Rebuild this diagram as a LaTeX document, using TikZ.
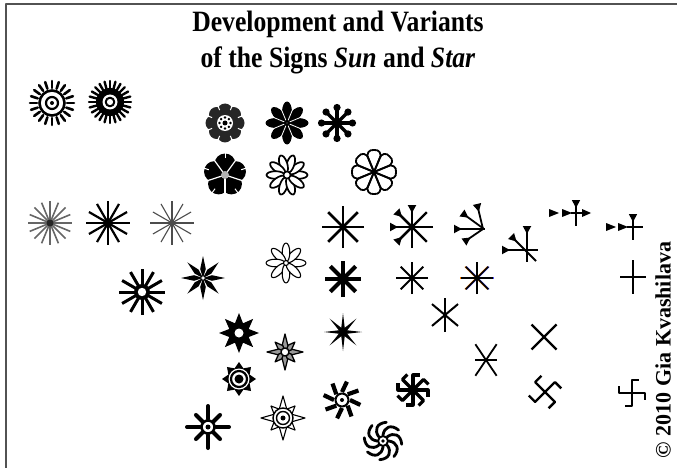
\documentclass[tikz,border=0pt]{standalone}
\usepackage{fontspec}
\setmainfont{Liberation Serif}
\newfontfamily\headfont[FakeStretch=0.87]{Liberation Serif}
\usetikzlibrary{arrows.meta}
\tikzset{
	plate/.style={x=1pt, y=-1pt, line join=round},
	ray/.style={line width=#1, line cap=round},
	ray/.default=2pt,
	bar/.style={line width=#1},
	bar/.default=2pt,
	petal/.style={draw, fill=white, line width=#1},
	petal/.default=1.6pt,
	wedge/.style={arrows={Triangle[reversed, length=#1, width=#1]-}},
	wedge/.default=8pt,
	frameline/.style={draw=black!68, line width=2pt},
	heading/.style={font=\headfont\bfseries\fontsize{29.5}{35}\selectfont, anchor=base, inner sep=0pt},
	signature/.style={font=\bfseries\fontsize{22}{26}\selectfont, rotate=90, inner sep=0pt},
}

\begin{document}
\begin{tikzpicture}[plate]
\useasboundingbox (0,0) rectangle (677,468);

% ---------- frame and headings ----------
\draw[frameline] (6,468) -- (6,4.5) -- (677,4.5);
\node[heading] (title1) at (338,32) {Development and Variants};
\node[heading] (title2) at (338,68) {of the Signs \textit{Sun} and \textit{Star}};
\node[signature] (copyright) at (663,350) {\textcopyright{} 2010 Gia Kvashilava};

% ---------- rayed suns ----------
\begin{scope}[shift={(52,103)}]
	\foreach \a in {0,18,...,342} \draw[ray=2.6pt] (\a:15) -- (\a:22);
	\draw[line width=2.6pt, fill=white] (0,0) circle (12.5);
	\draw[line width=2.2pt] (0,0) circle (6);
	\fill (0,0) circle (2);
\end{scope}
\begin{scope}[shift={(110,102)}]
	\foreach \a in {0,15,...,345} \draw[ray=2.4pt] (\a:12) -- (\a:21);
	\fill (0,0) circle (14);
	\fill[white] (0,0) circle (7.5);
	\draw[line width=2pt] (0,0) circle (4.3);
\end{scope}

% ---------- flowers ----------
\begin{scope}[shift={(225,123)}]
	\foreach \a in {0,45,...,315} \fill[black!85] (\a:12) circle (7.5);
	\fill[black!85] (0,0) circle (13);
	\foreach \a in {22.5,67.5,...,337.5} \draw[white, line width=1pt] (\a:14) -- (\a:21);
	\fill[white] (0,0) circle (8);
	\foreach \a in {0,45,...,315} \fill (\a:5.5) circle (1.3);
	\fill (0,0) circle (2.5);
\end{scope}
\begin{scope}[shift={(287,123)}]
	\foreach \a in {0,45,...,315} \fill[rotate=\a] (11,0) ellipse (10.5 and 5);
	\foreach \a in {22.5,67.5,...,337.5} \draw[white, line width=0.8pt] (\a:3) -- (\a:21);
\end{scope}
\begin{scope}[shift={(337,123)}]
	\foreach \a in {0,45,...,315} {
		\draw[bar=3.5pt] (0,0) -- (\a:14);
		\fill (\a:15.5) circle (3.6);
	}
	\fill (0,0) circle (4.5);
\end{scope}
\begin{scope}[shift={(225,175)}]
	\foreach \a in {-90,-18,54,126,198} \fill (\a:11) circle (10.5);
	\foreach \a in {-54,18,90,162,234} \draw[white, line width=1.2pt] (0,0) -- (\a:23);
	\foreach \a in {-90,-18,54,126,198} \draw[white, line width=1pt] (\a:17) -- (\a:22);
	\fill[black!30] (0,0) circle (4);
\end{scope}
\begin{scope}[shift={(287,175)}]
	\foreach \a in {0,36,...,324} \draw[petal=1.7pt, rotate=\a] (11.5,0) ellipse (9 and 3.8);
	\draw[petal=1.5pt] (0,0) circle (3.5);
\end{scope}
\begin{scope}[shift={(374,172)}]
	\foreach \a in {0,45,...,315}
		\draw[line width=1.8pt, rotate=\a] (0,0) -- (12.9,-5.4) .. controls (18,-8.5) and (23,-5) .. (22,0)
			.. controls (23,5) and (18,8.5) .. (12.9,5.4) -- cycle;
\end{scope}

% ---------- ray stars ----------
\begin{scope}[shift={(50,223)}]
	\foreach \a in {0,22.5,...,337.5} \draw[bar=1.6pt, black!60] (0,0) -- (\a:22);
	\fill[black!85] (0,0) circle (3.5);
\end{scope}
\begin{scope}[shift={(108,223)}]
	\foreach \a in {0,30,...,330} \draw[bar=2.2pt] (0,0) -- (\a:22);
	\fill (0,0) circle (4.5);
\end{scope}
\begin{scope}[shift={(172,223)}]
	\foreach \a in {0,30,...,330} \draw[bar=1.1pt, black!70] (0,0) -- (\a:22);
	\fill[black!70] (0,0) circle (2.5);
\end{scope}
\begin{scope}[shift={(142,292)}]
	\foreach \a in {0,30,...,330} \draw[bar=3pt] (0,0) -- (\a:23);
	\fill (0,0) circle (8);
	\fill[white] (0,0) circle (4.2);
\end{scope}
\begin{scope}[shift={(203,278)}]
	\foreach \a in {0,45,...,315} \fill[rotate=\a] (0,0) -- (9,2.8) -- (22,0) -- (9,-2.8) -- cycle;
	\fill[white] (0,0) circle (1.5);
\end{scope}
\begin{scope}[shift={(286,263)}]
	\foreach \a in {0,45,...,315} \draw[petal=1.1pt, rotate=\a] (10.5,0) ellipse (9.5 and 3.8);
	\draw[petal=1.1pt] (0,0) circle (2.5);
\end{scope}

% ---------- asterisks ----------
\begin{scope}[shift={(343,227)}]
	\foreach \a in {0,45,90,135} \draw[bar=2.6pt] (\a:21) -- (\a+180:21);
\end{scope}
\begin{scope}[shift={(412,227)}]
	\foreach \a in {0,45,90,135} \draw[bar=2.2pt] (\a:21) -- (\a+180:21);
	\foreach \a in {-90,-135,180,135} \draw[wedge, bar=2.2pt] (\a:22) -- (0,0);
\end{scope}
\begin{scope}[shift={(343,279)}]
	\foreach \a in {0,45,90,135} \draw[bar=4.2pt] (\a:18) -- (\a+180:18);
	\fill (0,0) circle (5);
\end{scope}
\begin{scope}[shift={(412,278)}]
	\foreach \a in {0,45,90,135} \draw[bar=1.8pt] (\a:16) -- (\a+180:16);
\end{scope}
\begin{scope}[shift={(477,278)}]
	\begin{scope}[xshift=-0.7pt, orange]
		\foreach \a in {0,45,90,135} \draw[bar=1.2pt] (\a:16) -- (\a+180:16);
	\end{scope}
	\begin{scope}[xshift=0.7pt, blue!70]
		\foreach \a in {0,45,90,135} \draw[bar=1.2pt] (\a:16) -- (\a+180:16);
	\end{scope}
	\foreach \a in {0,45,90,135} \draw[bar=1.5pt] (\a:16) -- (\a+180:16);
\end{scope}
\begin{scope}[shift={(445,315)}]
	\foreach \a in {90,40,140} \draw[bar=2pt] (\a:17) -- (\a+180:17);
\end{scope}
\begin{scope}[shift={(486,360)}]
	\draw[bar=1.8pt] (-11,0) -- (11,0);
	\foreach \a in {56,124} \draw[bar=1.8pt] (\a:19) -- (\a+180:19);
\end{scope}

% ---------- wedge signs ----------
\draw[wedge, bar=1.8pt] (477,204) -- (483,229);
\draw[wedge, bar=1.8pt] (462,213) -- (484,229);
\draw[wedge, bar=1.8pt] (454,229) -- (485,229);
\draw[wedge, bar=1.8pt] (464,242) -- (483,229);

\draw[wedge, bar=1.8pt] (527,226) -- (527,262);
\draw[wedge, bar=1.8pt] (502,250) -- (538,250);
\draw[wedge, bar=1.8pt] (511,236) -- (536,261);

\fill (549,209) -- (559,213) -- (549,217) -- cycle;
\fill (562,209) -- (572,213) -- (562,217) -- cycle;
\draw[wedge, bar=1.6pt] (576,200) -- (576,226);
\draw[bar=1.6pt] (571,213) -- (583,213);
\fill (582,209) -- (591,213) -- (582,217) -- cycle;

\fill (606,223) -- (616,227) -- (606,231) -- cycle;
\fill (618,223) -- (628,227) -- (618,231) -- cycle;
\draw[wedge, bar=1.6pt] (633,214) -- (633,240);
\draw[bar=1.6pt] (627,227) -- (643,227);

% ---------- crosses ----------
\begin{scope}[shift={(633,277)}]
	\draw[bar=2.6pt] (-13,0) -- (13,0) (0,-17) -- (0,17);
\end{scope}
\begin{scope}[shift={(544,337)}]
	\draw[bar=2.2pt] (-12.5,-12.5) -- (12.5,12.5) (-12.5,12.5) -- (12.5,-12.5);
\end{scope}
\begin{scope}[shift={(545,392)}]
	\foreach \a in {45,135,225,315} \draw[bar=2.4pt] (0,0) -- (\a:14) -- ++(\a+90:9);
\end{scope}
\begin{scope}[shift={(632,393)}]
	\foreach \a in {0,90,180,270} \draw[bar=2.2pt] (0,0) -- (\a:13) -- ++(\a+90:7);
\end{scope}
\begin{scope}[shift={(413,390)}]
	\foreach \a in {0,45,...,315} \draw[bar=3.2pt] (0,0) -- (\a:15) -- ++(\a+90:7);
	\fill (0,0) circle (4);
\end{scope}

% ---------- pointed stars ----------
\begin{scope}[shift={(239,333)}]
	\fill (0:20) \foreach \a in {0,45,...,315} {-- (\a:20) -- (\a+22.5:10.5)} -- cycle;
	\fill[white] (0,0) circle (4.5);
\end{scope}
\begin{scope}[shift={(343,332)}]
	\fill (0:19) \foreach \a in {0,45,...,315} {-- (\a:19) -- (\a+22.5:4.5)} -- cycle;
\end{scope}
\begin{scope}[shift={(285,352)}]
	\foreach \a/\r in {0/18,45/14,90/18,135/14,180/18,225/14,270/18,315/14}
		\draw[line width=1.3pt, fill=black!40, rotate=\a] (0,0) -- (6,3) -- (\r,0) -- (6,-3) -- cycle;
	\draw[line width=1.4pt, fill=white] (0,0) circle (4);
\end{scope}
\begin{scope}[shift={(239,379)}]
	\fill (0:17) \foreach \a in {0,45,...,315} {-- (\a:17) -- (\a+22.5:11.5)} -- cycle;
	\fill[white] (0,0) circle (10.5);
	\draw[line width=2.2pt] (0,0) circle (8);
	\fill (0,0) circle (4.5);
\end{scope}
\begin{scope}[shift={(283,418)}]
	\foreach \a/\r in {0/22,45/17,90/22,135/17,180/22,225/17,270/22,315/17}
		\draw[line width=1.1pt, fill=white, rotate=\a] (0,0) -- (8,4) -- (\r,0) -- (8,-4) -- cycle;
	\draw[line width=1.4pt, fill=white] (0,0) circle (10);
	\draw[line width=1.4pt] (0,0) circle (6.5);
	\fill (0,0) circle (2.5);
\end{scope}

% ---------- wheel suns ----------
\begin{scope}[shift={(342,400)}]
	\foreach \a in {0,45,...,315} \draw[bar=4.2pt] (\a:8) -- (\a+15:19);
	\draw[line width=2pt, fill=white] (0,0) circle (6.5);
	\fill (0,0) circle (2);
\end{scope}
\begin{scope}[shift={(208,427)}]
	\foreach \a/\r in {0/21,45/17,90/21,135/17,180/21,225/17,270/21,315/17}
		\draw[ray=4pt] (\a:8) -- (\a:\r);
	\draw[line width=2.5pt, fill=white] (0,0) circle (6.5);
	\fill (0,0) circle (2.5);
\end{scope}
\begin{scope}[shift={(383,441)}]
	\foreach \a in {0,45,...,315}
		\draw[ray=2.8pt] (\a:6) .. controls (\a+5:14) and (\a+25:19) .. (\a+55:19);
	\draw[line width=2pt, fill=white] (0,0) circle (5);
	\fill (0,0) circle (1.8);
\end{scope}

\end{tikzpicture}
\end{document}
